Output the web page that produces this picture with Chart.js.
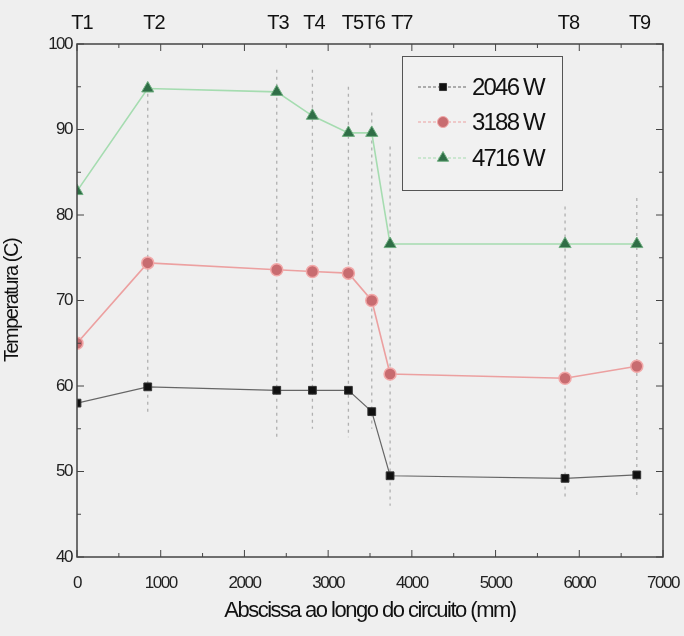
<!DOCTYPE html>
<html><head><meta charset="utf-8">
<script src="https://cdn.jsdelivr.net/npm/chart.js@4/dist/chart.umd.min.js"></script>
<style>html,body{margin:0;padding:0;background:#efefef;}#wrap{width:684px;height:636px;}</style>
</head><body><div id="wrap"><canvas id="c" width="684" height="636"></canvas></div>
<script>
// ---- data ----
const positionsMM = [0, 845, 2386, 2812, 3242, 3521, 3740, 5830, 6687];
const pointNames = ['T1','T2','T3','T4','T5','T6','T7','T8','T9'];
const nameLabelMM = [60, 920, 2400, 2830, 3290, 3550, 3880, 5870, 6720];
const series2046 = [58.0, 59.9, 59.5, 59.5, 59.5, 57.0, 49.5, 49.2, 49.6];
const series3188 = [65.0, 74.4, 73.6, 73.4, 73.2, 70.0, 61.4, 60.9, 62.3];
const series4716 = [82.8, 94.8, 94.4, 91.6, 89.6, 89.6, 76.6, 76.6, 76.6];
const guideLow  = [null, 57, 54, 55, 54, 55, 46, 47, 47];
const guideHigh = [null, 95, 97, 97, 95, 92, 88, 81, 82];
const seriesNames = ['2046 W', '3188 W', '4716 W'];
const xTickValues = [0, 1000, 2000, 3000, 4000, 5000, 6000, 7000];
const yTickValues = [40, 50, 60, 70, 80, 90, 100];

const FONT = '"Liberation Sans", Arial, sans-serif';
const BG = '#efefef';

function pts(vals){ return positionsMM.map((x,i)=>({x:x, y:vals[i]})); }

const bgPlugin = {
  id:'bg',
  beforeDraw(chart){
    const c = chart.ctx;
    c.letterSpacing = '-1.5px';
    c.save(); c.fillStyle = BG; c.fillRect(0,0,chart.width,chart.height); c.restore();
  }
};

const guidePlugin = {
  id:'guides',
  beforeDatasetsDraw(chart){
    const c = chart.ctx, xs = chart.scales.x, ys = chart.scales.y;
    c.save();
    c.strokeStyle = '#b0b0b0'; c.lineWidth = 1.3; c.setLineDash([3,4]);
    positionsMM.forEach((p,i)=>{
      if (guideLow[i]==null) return;
      const x = xs.getPixelForValue(p);
      c.beginPath();
      c.moveTo(x, ys.getPixelForValue(guideHigh[i]));
      c.lineTo(x, ys.getPixelForValue(guideLow[i]));
      c.stroke();
    });
    c.restore();
  }
};

const framePlugin = {
  id:'frame',
  afterDraw(chart){
    const c = chart.ctx, a = chart.chartArea, xs = chart.scales.x, ys = chart.scales.y;
    c.save();
    c.strokeStyle = '#444'; c.lineWidth = 1.5; c.setLineDash([]);
    c.strokeRect(a.left, a.top, a.right-a.left, a.bottom-a.top);
    c.lineWidth = 1;
    for (let v = 0; v <= 7000; v += 500){
      const x = xs.getPixelForValue(v); const L = (v % 1000 === 0) ? 7 : 4;
      c.beginPath(); c.moveTo(x, a.bottom); c.lineTo(x, a.bottom - L);
      c.moveTo(x, a.top); c.lineTo(x, a.top + L); c.stroke();
    }
    for (let v = 40; v <= 100; v += 5){
      const y = ys.getPixelForValue(v); const L = (v % 10 === 0) ? 7 : 4;
      c.beginPath(); c.moveTo(a.left, y); c.lineTo(a.left + L, y);
      c.moveTo(a.right, y); c.lineTo(a.right - L, y); c.stroke();
    }
    // top point names
    c.letterSpacing = '-1px';
    c.fillStyle = '#111'; c.font = '20px ' + FONT; c.textAlign = 'center'; c.textBaseline = 'middle';
    pointNames.forEach((n,i)=>{ c.fillText(n, xs.getPixelForValue(nameLabelMM[i]), 23); });
    // legend
    const bx = 402, by = 56, bw = 160, bh = 134;
    c.fillStyle = '#f1f1f1'; c.fillRect(bx, by, bw, bh);
    c.strokeStyle = '#555'; c.lineWidth = 1; c.strokeRect(bx+0.5, by+0.5, bw, bh);
    const rows = [87, 122, 158];
    chart.data.datasets.forEach((ds, i)=>{
      const y = rows[i];
      c.save();
      c.strokeStyle = ds.borderColor; c.lineWidth = 1.2; c.setLineDash([3,2]);
      c.beginPath(); c.moveTo(418, y); c.lineTo(468, y); c.stroke();
      c.restore();
      c.fillStyle = ds.pointBackgroundColor; c.strokeStyle = ds.pointBorderColor; c.lineWidth = 1;
      Chart.helpers.drawPoint(c, {pointStyle: ds.pointStyle, radius: ds.pointRadius - 0.5, borderWidth: 1, rotation: 0}, 443, y);
      c.letterSpacing = '-1.8px';
      c.fillStyle = '#111'; c.font = '24px ' + FONT; c.textAlign = 'left'; c.textBaseline = 'middle';
      c.fillText(ds.label, 472, y + 1);
    });
    c.restore();
  }
};

new Chart(document.getElementById('c'), {
  type: 'line',
  data: {
    datasets: [
      { label: seriesNames[0], data: pts(series2046), borderColor: '#666', borderWidth: 1.2,
        pointStyle: 'rect', pointRadius: 5.5, pointBackgroundColor: '#111', pointBorderColor: '#333', pointBorderWidth: 1 },
      { label: seriesNames[1], data: pts(series3188), borderColor: '#eca0a0', borderWidth: 1.6,
        pointStyle: 'circle', pointRadius: 6, pointBackgroundColor: '#c86c70', pointBorderColor: '#f2a8a8', pointBorderWidth: 1.5 },
      { label: seriesNames[2], data: pts(series4716), borderColor: '#a5dcb0', borderWidth: 1.6,
        pointStyle: 'triangle', pointRadius: 7, pointBackgroundColor: '#2f6e46', pointBorderColor: '#6fae80', pointBorderWidth: 1 }
    ]
  },
  options: {
    responsive: false, animation: false, devicePixelRatio: 1,
    layout: { padding: { left: 0, top: 44, right: 21, bottom: 0 } },
    plugins: { legend: { display: false }, tooltip: { enabled: false } },
    elements: { line: { tension: 0 } },
    scales: {
      x: {
        type: 'linear', min: 0, max: 7000,
        afterBuildTicks(s){ s.ticks = xTickValues.map(v=>({value:v})); },
        afterFit(s){ s.height = 79; s.paddingRight = 0; s.paddingLeft = 0; },
        grid: { display: false, drawTicks: false }, border: { display: false },
        ticks: { font: { family: FONT, size: 17 }, color: '#222', padding: 16, maxRotation: 0, autoSkip: false,
                 callback: v => String(v) },
        title: { display: true, text: 'Abscissa ao longo do circuito (mm)', font: { family: FONT, size: 22 }, color: '#111', padding: { bottom: 12 } }
      },
      y: {
        min: 40, max: 100,
        afterBuildTicks(s){ s.ticks = yTickValues.map(v=>({value:v})); },
        afterFit(s){ s.width = 77; s.paddingTop = 0; s.paddingBottom = 0; },
        grid: { display: false, drawTicks: false }, border: { display: false },
        ticks: { font: { family: FONT, size: 17 }, color: '#222', padding: 5, callback: v => String(v) },
        title: { display: true, text: 'Temperatura (C)', font: { family: FONT, size: 20 }, color: '#111', padding: { top: 0, bottom: 6 } }
      }
    }
  },
  plugins: [bgPlugin, guidePlugin, framePlugin]
});
</script>
</body></html>
